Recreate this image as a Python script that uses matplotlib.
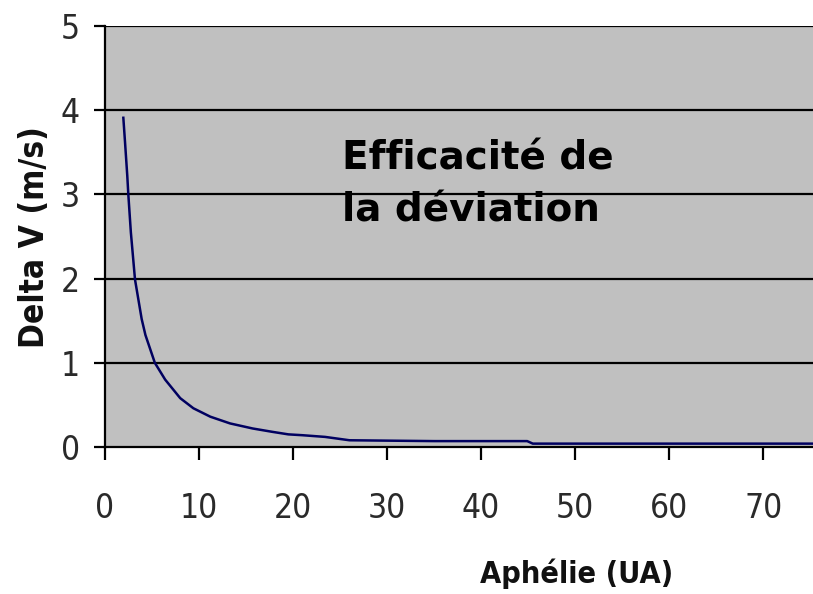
import matplotlib
matplotlib.use("Agg")
import matplotlib.pyplot as plt

# Data
aphelie = [1.95, 2.13, 2.37, 2.48, 2.75, 3.19, 3.9, 4.3, 5.3, 6.4, 8.0,
           9.4, 11.2, 13.3, 15.7, 17.8, 19.5, 21.0, 23.4, 26.0, 35.0, 44.9,
           45.5, 60.0, 76.0]
delta_v = [3.91, 3.62, 3.22, 3.00, 2.55, 1.99, 1.52, 1.33, 1.00, 0.80,
           0.58, 0.46, 0.36, 0.28, 0.22, 0.18, 0.15, 0.14, 0.12, 0.08, 0.07,
           0.07, 0.04, 0.04, 0.04]
x_ticks = [0, 10, 20, 30, 40, 50, 60, 70]
y_ticks = [0, 1, 2, 3, 4, 5]

tick_font = dict(family="DejaVu Sans", stretch="condensed")

W, H = 813, 594
fig = plt.figure(figsize=(W / 100, H / 100), dpi=100)
fig.patch.set_facecolor("white")
ax = fig.add_axes([105 / W, (H - 447) / H, (W - 105) / W, (447 - 26) / H])
ax.set_facecolor("#c0c0c0")
ax.set_xlim(0, 75.3)
ax.set_ylim(0, 5)

for y in y_ticks[1:]:
    ax.axhline(y, color="black", lw=1.6, zorder=1)

ax.plot(aphelie, delta_v, color="#000060", lw=1.8, zorder=3)

for s in ["top", "right"]:
    ax.spines[s].set_visible(False)
for s in ["left", "bottom"]:
    ax.spines[s].set_linewidth(1.6)
    ax.spines[s].set_color("black")

ax.set_xticks(x_ticks)
ax.set_yticks(y_ticks)
ax.set_xticklabels([str(v) for v in x_ticks], fontsize=24, color="#2a2a2a", **tick_font)
ax.set_yticklabels([str(v) for v in y_ticks], fontsize=24, color="#2a2a2a", **tick_font)
ax.tick_params(axis="x", length=9.5, width=1.6, pad=23)
ax.tick_params(axis="y", length=8, width=1.6, pad=10)

fig.text(35 / W, 1 - 237 / H, "Delta V (m/s)", rotation=90, ha="center", va="center",
         fontsize=24, fontweight="bold", color="#111111", **tick_font)
fig.text(577 / W, 1 - 574 / H, "Aphélie (UA)", ha="center", va="center",
         fontsize=22, fontweight="bold", color="#111111", **tick_font)

fig.text(342 / W, 1 - 169 / H, "Efficacité de", ha="left", va="baseline",
         fontsize=28, fontweight="bold", family="DejaVu Sans", color="black")
fig.text(342 / W, 1 - 221 / H, "la déviation", ha="left", va="baseline",
         fontsize=28, fontweight="bold", family="DejaVu Sans", color="black")

fig.savefig("out.png", dpi=100)
